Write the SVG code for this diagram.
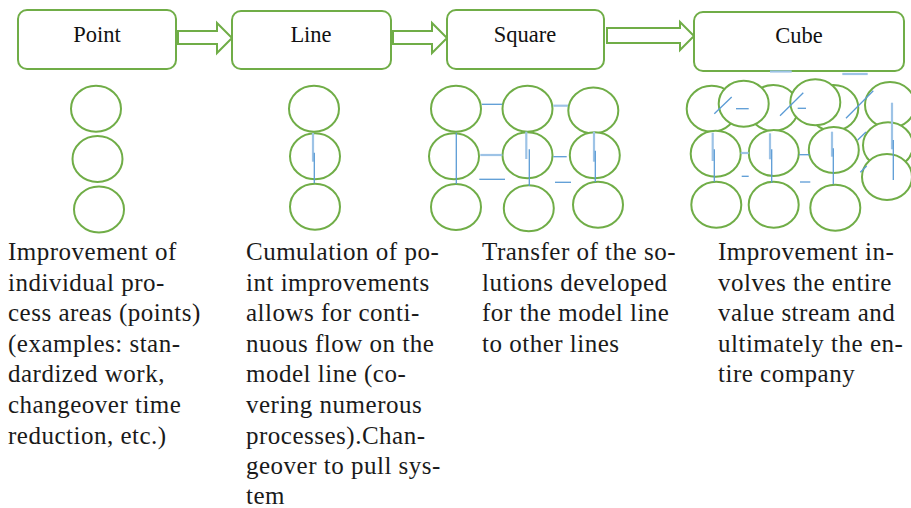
<svg xmlns="http://www.w3.org/2000/svg" width="911" height="508" viewBox="0 0 911 508">
<style>
.box{fill:#fff;stroke:#70AD47;stroke-width:2}
.arr{fill:#fff;stroke:#70AD47;stroke-width:2;stroke-linejoin:miter}
.c{fill:#fff;stroke:#70AD47;stroke-width:2}
.lbl{font-family:'Liberation Serif','DejaVu Serif',serif;font-size:22.5px;fill:#111;text-anchor:middle}
.body{font-family:'Liberation Serif','DejaVu Serif',serif;font-size:25px;letter-spacing:0.5px;fill:#1a1a1a}
.bl{stroke:#5B9BD5;stroke-width:1.3;fill:none}
.bll{stroke:#9DC3E6;stroke-width:2.2;fill:none}
</style>
<rect width="911" height="508" fill="#fff"/>

<g id="connectors">
<path class="arr" d="M178,31 H217 V23 L232,38 L217,53 V44 H178 Z"/>
<path class="arr" d="M393,31 H432 V23 L447,38 L432,53 V44 H393 Z"/>
<path class="arr" d="M607,28 H680 V22 L694,36 L680,50 V43 H607 Z"/>
</g>

<g id="node-point">
<rect class="box" x="18" y="10" width="158" height="59" rx="9"/>
<text class="lbl" x="97" y="42">Point</text>
</g>
<g id="node-line">
<rect class="box" x="232" y="11" width="159" height="58" rx="9"/>
<text class="lbl" x="311" y="42">Line</text>
</g>
<g id="node-square">
<rect class="box" x="447" y="10" width="157" height="59" rx="9"/>
<text class="lbl" x="525" y="42">Square</text>
</g>
<g id="node-cube">
<rect class="box" x="694" y="12" width="210" height="59" rx="9"/>
<text class="lbl" x="799" y="43">Cube</text>
</g>

<g id="point-circles">
<ellipse class="c" cx="96" cy="108.7" rx="25" ry="23"/>
<ellipse class="c" cx="97.5" cy="159" rx="25" ry="23"/>
<ellipse class="c" cx="99" cy="209.5" rx="25" ry="23"/>
</g>

<g id="line-circles">
<ellipse class="c" cx="314" cy="108.7" rx="25" ry="23"/>
<ellipse class="c" cx="315" cy="156.3" rx="25" ry="23"/>
<ellipse class="c" cx="315" cy="206.7" rx="25" ry="23"/>
<line class="bll" x1="313" y1="133" x2="313" y2="161.7"/>
<line class="bl" x1="314.3" y1="152.7" x2="314.3" y2="183.3"/>
</g>

<g id="square-circles">
<ellipse class="c" cx="456" cy="108.7" rx="25" ry="23"/>
<ellipse class="c" cx="527.5" cy="108.7" rx="25" ry="23"/>
<ellipse class="c" cx="593.3" cy="110.5" rx="25" ry="23"/>
<ellipse class="c" cx="454" cy="156.3" rx="25" ry="23"/>
<ellipse class="c" cx="527.5" cy="155.3" rx="25" ry="23"/>
<ellipse class="c" cx="594.8" cy="155.3" rx="25" ry="23"/>
<ellipse class="c" cx="456" cy="207" rx="25" ry="23"/>
<ellipse class="c" cx="528.8" cy="208.3" rx="25" ry="23"/>
<ellipse class="c" cx="598" cy="204.8" rx="25" ry="23"/>
<line class="bl" x1="482" y1="104.3" x2="502.3" y2="104.3"/>
<line class="bll" x1="553.3" y1="105.7" x2="568" y2="105.7"/>
<line class="bl" x1="456.3" y1="132.7" x2="456.3" y2="184"/>
<line class="bll" x1="480.3" y1="155" x2="502.3" y2="155"/>
<line class="bll" x1="526.3" y1="131.7" x2="526.3" y2="159"/>
<line class="bl" x1="529.3" y1="149.3" x2="529.3" y2="186"/>
<line class="bl" x1="553.3" y1="156.7" x2="566.7" y2="156.7"/>
<line class="bll" x1="594" y1="131.7" x2="594" y2="161.7"/>
<line class="bl" x1="595.3" y1="150.7" x2="595.3" y2="182"/>
<line class="bl" x1="479.3" y1="179.3" x2="505" y2="179.3"/>
<line class="bl" x1="555" y1="182.3" x2="571" y2="182.3"/>
</g>

<g id="cube-circles">
<ellipse class="c" cx="711.7" cy="108.7" rx="25" ry="23"/>
<ellipse class="c" cx="773.3" cy="108" rx="25" ry="23"/>
<ellipse class="c" cx="833.3" cy="108" rx="25" ry="23"/>
<ellipse class="c" cx="743.7" cy="103.7" rx="25" ry="23"/>
<ellipse class="c" cx="815.3" cy="102.2" rx="25" ry="23"/>
<ellipse class="c" cx="890" cy="105" rx="25" ry="23"/>
<ellipse class="c" cx="715.7" cy="153.7" rx="25" ry="23"/>
<ellipse class="c" cx="773.8" cy="153" rx="25" ry="23"/>
<ellipse class="c" cx="833.8" cy="150" rx="25" ry="23"/>
<ellipse class="c" cx="888" cy="145.3" rx="25" ry="23"/>
<ellipse class="c" cx="887" cy="177" rx="25" ry="23"/>
<ellipse class="c" cx="716.3" cy="204.8" rx="25" ry="23"/>
<ellipse class="c" cx="773.7" cy="204.8" rx="25" ry="23"/>
<ellipse class="c" cx="835.3" cy="207.8" rx="25" ry="23"/>
<line class="bll" x1="770" y1="71.5" x2="791.7" y2="71.5"/>
<line class="bll" x1="842.3" y1="74" x2="867.7" y2="74"/>
<line class="bl" x1="714.3" y1="113.7" x2="731.7" y2="97"/>
<line class="bl" x1="736" y1="108.7" x2="748.7" y2="108.7"/>
<line class="bl" x1="780" y1="115.7" x2="803.3" y2="92.7"/>
<line class="bl" x1="797.7" y1="108.3" x2="806" y2="108.3"/>
<line class="bl" x1="846" y1="118.3" x2="873.3" y2="90.7"/>
<line class="bl" x1="857.7" y1="140" x2="866" y2="132"/>
<line class="bl" x1="860.3" y1="172.3" x2="866.7" y2="166"/>
<line class="bll" x1="712.7" y1="132.7" x2="712.7" y2="161"/>
<line class="bl" x1="714.3" y1="149.3" x2="714.3" y2="181.7"/>
<line class="bll" x1="740.7" y1="153" x2="748.7" y2="153"/>
<line class="bll" x1="770" y1="133.3" x2="770" y2="159.3"/>
<line class="bl" x1="771.7" y1="149.3" x2="771.7" y2="182.7"/>
<line class="bl" x1="799" y1="154.7" x2="809.3" y2="154.7"/>
<line class="bll" x1="832" y1="131.7" x2="832" y2="156.7"/>
<line class="bl" x1="833.3" y1="148.3" x2="833.3" y2="184.3"/>
<line class="bl" x1="741.7" y1="176.3" x2="748.7" y2="176.3"/>
<line class="bl" x1="800" y1="182" x2="810.3" y2="182"/>
<line class="bll" x1="892" y1="102.7" x2="892" y2="149.3"/>
<line class="bl" x1="893.3" y1="140" x2="893.3" y2="180"/>
</g>

<g id="text-point">
<text class="body"><tspan x="8" y="260">Improvement of</tspan><tspan x="8" y="290.6">individual pro-</tspan><tspan x="8" y="321.2">cess areas (points)</tspan><tspan x="8" y="351.8">(examples: stan-</tspan><tspan x="8" y="382.4">dardized work,</tspan><tspan x="8" y="413">changeover time</tspan><tspan x="8" y="443.6">reduction, etc.)</tspan></text>
</g>
<g id="text-line">
<text class="body"><tspan x="246" y="260">Cumulation of po-</tspan><tspan x="246" y="290.6">int improvements</tspan><tspan x="246" y="321.2">allows for conti-</tspan><tspan x="246" y="351.8">nuous flow on the</tspan><tspan x="246" y="382.4">model line (co-</tspan><tspan x="246" y="413">vering numerous</tspan><tspan x="246" y="443.6">processes).Chan-</tspan><tspan x="246" y="474.2">geover to pull sys-</tspan><tspan x="246" y="503.5">tem</tspan></text>
</g>
<g id="text-square">
<text class="body"><tspan x="482" y="260">Transfer of the so-</tspan><tspan x="482" y="290.6">lutions developed</tspan><tspan x="482" y="321.2">for the model line</tspan><tspan x="482" y="351.8">to other lines</tspan></text>
</g>
<g id="text-cube">
<text class="body"><tspan x="718" y="260">Improvement in-</tspan><tspan x="718" y="290.6">volves the entire</tspan><tspan x="718" y="321.2">value stream and</tspan><tspan x="718" y="351.8">ultimately the en-</tspan><tspan x="718" y="382.4">tire company</tspan></text>
</g>
</svg>
